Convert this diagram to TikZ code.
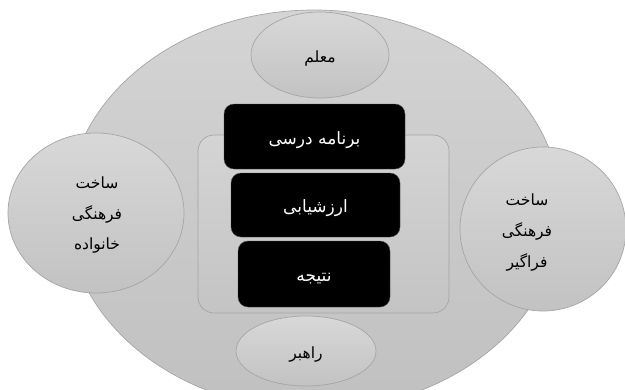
\documentclass[tikz,border=0pt]{standalone}
\usepackage{fontspec}
\TeXXeTstate=1
\newfontfamily\arabicfont[Script=Arabic]{DejaVu Sans}
\usetikzlibrary{shapes.geometric}
\definecolor{edgegray}{RGB}{165,165,165}
\definecolor{bigtop}{RGB}{212,212,212}
\definecolor{bigbot}{RGB}{192,192,192}
\definecolor{smtop}{RGB}{216,216,216}
\definecolor{smbot}{RGB}{194,194,194}
\definecolor{intop}{RGB}{212,212,212}
\definecolor{inbot}{RGB}{196,196,196}
\tikzset{
  bigell/.style={ellipse, draw=edgegray, line width=0.7pt, top color=bigtop, bottom color=bigbot, inner sep=0pt},
  smell/.style={ellipse, draw=edgegray, line width=0.7pt, top color=smtop, bottom color=smbot, inner sep=0pt,
    font=\arabicfont\fontsize{15.5}{18}\selectfont, text=black, text height=15pt, text depth=0pt},
  innerbox/.style={rectangle, rounded corners=16pt, draw=edgegray, line width=0.7pt, top color=intop, bottom color=inbot, inner sep=0pt},
  blackbox/.style={rectangle, rounded corners=10pt, draw=black!70, fill=black, inner sep=0pt,
    text=white, font=\arabicfont\fontsize{17}{20}\selectfont, text height=15pt, text depth=0pt},
  lbl/.style={align=center, font=\arabicfont\fontsize{15.5}{31}\selectfont, text=black, inner sep=0pt}
}
\begin{document}
\begin{tikzpicture}[x=1pt,y=-1pt]
\useasboundingbox (0,0) rectangle (625,389);
\node[bigell, minimum width=494pt, minimum height=400pt] (big) at (314,210) {};
\node[smell, minimum width=176pt, minimum height=160pt] (fam) at (96,213) {};
\node[lbl] (famtxt) at (97,215) {\beginR ساخت\endR\\ \beginR فرهنگی\endR\\ \beginR خانواده\endR};
\node[smell, minimum width=166pt, minimum height=164pt] (glob) at (543,229) {};
\node[lbl] (globtxt) at (527,232) {\beginR ساخت\endR\\ \beginR فرهنگی\endR\\ \beginR فراگیر\endR};
\node[smell, minimum width=138pt, minimum height=86pt] (teach) at (320,55) {\beginR معلم\endR};
\node[smell, minimum width=140pt, minimum height=70pt] (lead) at (306,351) {\beginR راهبر\endR};
\node[innerbox, minimum width=251pt, minimum height=178pt] (inner) at (323.5,224) {};
\node[blackbox, minimum width=181pt, minimum height=65pt] (cur) at (314.5,136.5) {\beginR برنامه درسی\endR};
\node[blackbox, minimum width=169pt, minimum height=64pt] (eval) at (315.5,205) {\beginR ارزشیابی\endR};
\node[blackbox, minimum width=152pt, minimum height=66pt] (res) at (314,274) {\beginR نتیجه\endR};
\end{tikzpicture}
\end{document}
